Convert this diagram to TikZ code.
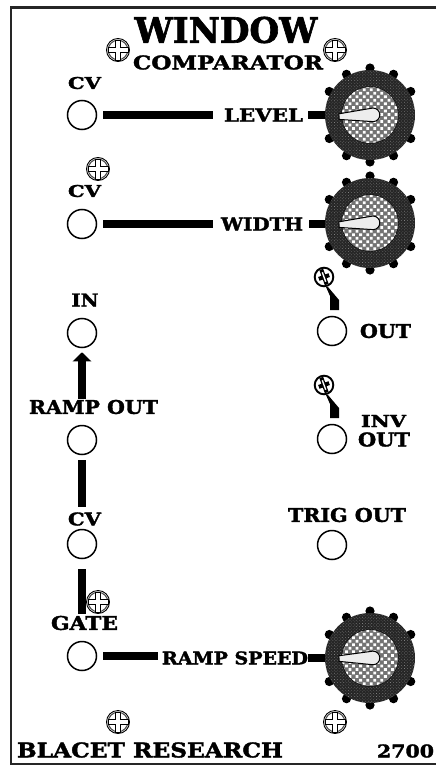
\documentclass[tikz,border=0pt]{standalone}
\usepackage{fontspec}
\usepackage{graphicx}
\setmainfont{DejaVu Serif}[BoldFeatures={FakeBold=1.8}]
\usetikzlibrary{patterns.meta,calc,arrows.meta}
\newcommand{\fitlbl}[3]{\resizebox{#1pt}{#2pt}{\bfseries #3}}
\newcommand{\fitheavy}[3]{\resizebox{#1pt}{#2pt}{\bfseries\addfontfeatures{FakeBold=3.2}#3}}
\tikzset{
  x=1pt,y=-1pt,
  jack/.style={circle,draw=black,line width=1.5pt,minimum size=29pt,inner sep=0pt,fill=white},
  lab/.style={inner sep=0pt,outer sep=0pt,text=black},
  bar/.style={line width=8pt,black},
  knobnode/.style={circle,minimum size=90pt,inner sep=0pt},
  screw/.pic={
    \draw[line width=.9pt,fill=white] (0,0) circle (11.5);
    \draw[line width=1.1pt,gray!60!black] (0,0) circle (9.8);
    \draw[line width=.9pt,fill=white,line join=miter]
      (-2.7,-10)--(2.7,-10)--(2.7,-2.7)--(10,-2.7)--(10,2.7)--(2.7,2.7)--(2.7,10)--(-2.7,10)--(-2.7,2.7)--(-10,2.7)--(-10,-2.7)--(-2.7,-2.7)--cycle;
    \draw[white,line width=2pt] (-2,0)--(2,0) (0,-2)--(0,2);
  },
  smallscrew/.pic={
    \draw[line width=1.9pt,fill=white] (0,0) circle (9.3);
    \begin{scope}[rotate=20]
    \fill[black] (-2,-8)--(2,-8)--(2,-2)--(5.5,-2)--(5.5,2)--(2,2)--(2,8)--(-2,8)--(-2,2)--(-5.5,2)--(-5.5,-2)--(-2,-2)--cycle;
    \fill[white] (-.7,-5)--(.7,-5)--(.7,5)--(-.7,5)--cycle;
    \end{scope}
  },
  knobart/.pic={
    \foreach \a in {30,60,90,120,150,210,240,270,300,330}
      \fill[black] (\a:47) circle (4.6);
    \fill[black!85] (0,0) circle (45);
    \fill[pattern={Dots[radius=.45pt,distance=2.2pt,angle=45]},pattern color=gray] (0,0) circle (45);
    \fill[black] (0,0) circle (28.5);
    \fill[black!55] (0,0) circle (28);
    \fill[pattern={Dots[radius=1.95pt,distance=5pt,angle=45]},pattern color=white] (0,0) circle (28);
    \begin{scope}[rotate=#1]
      \draw[line width=1pt,draw=black,fill=white!93!black,line join=round]
        (-31,-2.8) -- (3,-6.8) arc[start angle=-90,end angle=90,radius=6.8] -- (-31,2.8) -- cycle;
    \end{scope}
  },
}
\begin{document}
\begin{tikzpicture}
\useasboundingbox (0,0) rectangle (436,765);
\fill[white] (0,0) rectangle (436,765);
% panel edge
\draw[line width=2.6pt,black!85] (436,7.5) -- (11,7.5) -- (11,764) -- (436,764);

% title
\node[lab] (window) at (226,30) {\fitheavy{183}{26}{WINDOW}};
\node[lab] (comparator) at (228,62.5) {\fitlbl{190}{14}{COMPARATOR}};

% jacks
\node[jack] (cva) at (82,115) {};
\node[jack] (cvb) at (82,224) {};
\node[jack] (in) at (82,333) {};
\node[jack] (ramp) at (82,440) {};
\node[jack] (cvc) at (82,544) {};
\node[jack] (gate) at (82,656) {};
\node[jack] (out) at (332,331) {};
\node[jack] (inv) at (332,439) {};
\node[jack] (trig) at (332,545) {};

% labels
\node[lab] (lcva) at (84.5,83) {\fitlbl{33}{12}{CV}};
\node[lab] (lcvb) at (84.5,191) {\fitlbl{33}{12}{CV}};
\node[lab] (lcvc) at (84.5,519) {\fitlbl{33}{13}{CV}};
\node[lab] (lin) at (85,300) {\fitlbl{27}{13}{IN}};
\node[lab] (lramp) at (93.5,407) {\fitlbl{129}{14}{RAMP OUT}};
\node[lab] (lgate) at (84.5,623) {\fitlbl{67}{14}{GATE}};
\node[lab] (level) at (263.5,115) {\fitlbl{79}{13}{LEVEL}};
\node[lab] (width) at (262,224) {\fitlbl{82}{13}{WIDTH}};
\node[lab] (speed) at (235,658) {\fitlbl{146}{13}{RAMP SPEED}};
\node[lab] (lout) at (385.5,331) {\fitlbl{51}{14}{OUT}};
\node[lab] (linv) at (383.5,421) {\fitlbl{45}{12}{INV}};
\node[lab] (loutb) at (384,439.5) {\fitlbl{52}{14}{OUT}};
\node[lab] (ltrig) at (347,515) {\fitlbl{118}{14}{TRIG OUT}};
\node[lab] (brand) at (150,750) {\fitlbl{266}{15}{BLACET RESEARCH}};
\node[lab] (num) at (405.5,751) {\fitlbl{57}{13}{2700}};

% knob anchors
\node[knobnode] (ka) at (370,115) {};
\node[knobnode] (kb) at (370,223) {};
\node[knobnode] (kc) at (370,658) {};

% connectors
\draw[bar,shorten <=6pt,shorten >=11pt] (cva.east) -- (level.west);
\draw[bar,shorten <=5pt] (level.east) -- (ka.west);
\draw[bar,shorten <=6pt,shorten >=8pt] (cvb.east) -- (width.west);
\draw[bar,shorten <=6pt] (width.east) -- (width.east -| kb.west);
\draw[bar,shorten <=6pt,shorten >=4pt] (gate.east) -- (gate.east -| speed.west);
\draw[bar] (speed.east) -- (kc.west);
\draw[bar,shorten <=5pt,shorten >=5pt] (ramp.south) -- (cvc.north |- lcvc.north);
\draw[bar,shorten <=10pt,shorten >=2pt] (cvc.south) -- (lgate.north -| cvc.south);
\draw[line width=8pt,-{Triangle[length=9pt,width=18pt]},shorten >=4pt,shorten <=1pt] (in.south |- lramp.north) -- (in.south);

% knobs
\pic at (ka) {knobart=3};
\pic at (kb) {knobart=3};
\pic at (kc) {knobart=1};

% screws
\pic at (118,50) {screw};
\pic at (335,50) {screw};
\pic at (98,169) {screw};
\pic at (98,602) {screw};
\pic at (118,722) {screw};
\pic at (335,722) {screw};

% output indicators
\pic at (324,277) {smallscrew};
\pic at (324,385) {smallscrew};
\fill[black] (328,287) -- (339,300) -- (339,310) -- (330,310) -- (330,296) -- (326,287) -- cycle;
\fill[black] (328,395) -- (339,408) -- (339,418) -- (330,418) -- (330,404) -- (326,395) -- cycle;
\end{tikzpicture}
\end{document}
